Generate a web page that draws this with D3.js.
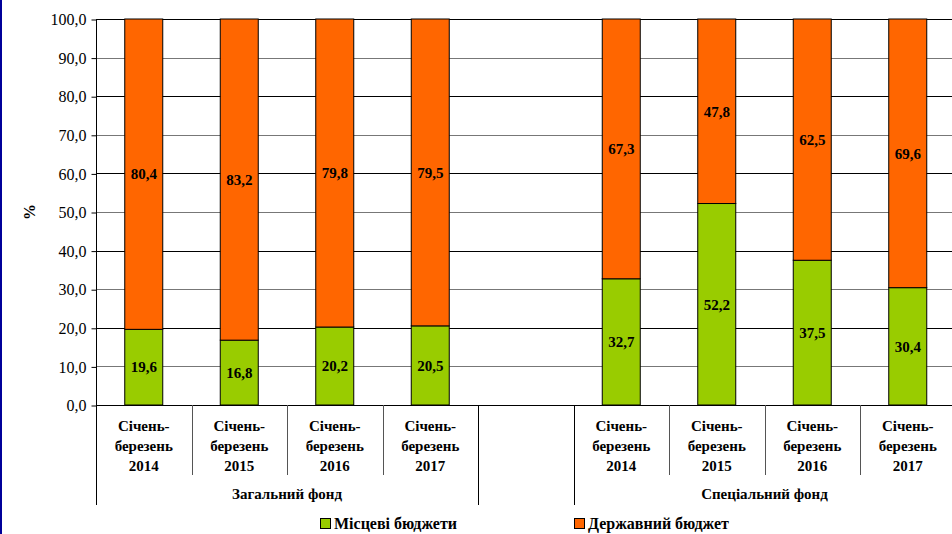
<!DOCTYPE html>
<html><head><meta charset="utf-8">
<script src="https://cdn.jsdelivr.net/npm/d3@7"></script>
<style>
body{margin:0;background:#fff;}
svg{display:block;}
svg text{font-family:"Times New Roman","Liberation Serif",Tinos,"DejaVu Serif",serif !important;}
</style></head>
<body>
<svg id="chart" width="952" height="534"></svg>
<script>
const categories = ["g2014","g2015","g2016","g2017","gap","s2014","s2015","s2016","s2017"];
const categoryLabels = [
  ["Січень-","березень","2014"],["Січень-","березень","2015"],["Січень-","березень","2016"],["Січень-","березень","2017"],
  [],
  ["Січень-","березень","2014"],["Січень-","березень","2015"],["Січень-","березень","2016"],["Січень-","березень","2017"]
];
const localBudget = [19.6,16.8,20.2,20.5,null,32.7,52.2,37.5,30.4];
const stateBudget = [80.4,83.2,79.8,79.5,null,67.3,47.8,62.5,69.6];
const groups = [{name:"Загальний фонд", from:0, to:4},{name:"Спеціальний фонд", from:5, to:9}];
const yTicks = [0,10,20,30,40,50,60,70,80,90,100];
const seriesNames = ["Місцеві бюджети","Державний бюджет"];
const colors = ["#99CC00","#FF6600"];

const svg = d3.select("#chart");
const pLeft = 96, pRight = 955.5, pTop = 19, pBottom = 405;
const x = d3.scaleBand().domain(categories).range([pLeft,pRight]).paddingInner(0).paddingOuter(0);
const y = d3.scaleLinear().domain([0,100]).range([pBottom,pTop]);
const fmt = v => d3.format(".1f")(v).replace(".",",");

// left border
svg.append("rect").attr("x",0).attr("y",0).attr("width",2).attr("height",534).attr("fill","#000099");

// gridlines
svg.append("g").selectAll("line").data(yTicks.filter(d=>d>0)).join("line")
  .attr("x1",pLeft).attr("x2",952).attr("y1",d=>Math.round(y(d))+0.5).attr("y2",d=>Math.round(y(d))+0.5)
  .attr("stroke",d=> (d/10)%2===1 ? "#777" : "#000").attr("stroke-width",1);

// y axis
const yAxis = d3.axisLeft(y).tickValues(yTicks).tickFormat(fmt).tickSize(5).tickPadding(5);
const ya = svg.append("g").attr("transform",`translate(${pLeft+0.5},0.5)`).call(yAxis)
  .attr("font-size",16);
ya.select(".domain").attr("stroke","#000").attr("d",`M0,${pTop}V${pBottom}`);
ya.selectAll("text").attr("fill","#000");
ya.selectAll(".tick line").attr("stroke","#000");

// y label
svg.append("text").attr("transform","translate(35,212) rotate(-90)").attr("text-anchor","middle")
  .attr("font-size",16).attr("font-weight","bold").text("%");

// bars
const bw = 38;
const data = categories.map((c,i)=>({c,i,l:localBudget[i],s:stateBudget[i]})).filter(d=>d.l!=null);
const gb = svg.append("g");
gb.selectAll("rect.l").data(data).join("rect").attr("class","l")
  .attr("x",d=>x(d.c)+x.bandwidth()/2-bw/2).attr("width",bw)
  .attr("y",d=>y(d.l)).attr("height",d=>y(0)-y(d.l))
  .attr("fill",colors[0]).attr("stroke","#000").attr("stroke-width",1);
gb.selectAll("rect.s").data(data).join("rect").attr("class","s")
  .attr("x",d=>x(d.c)+x.bandwidth()/2-bw/2).attr("width",bw)
  .attr("y",d=>y(d.l+d.s)).attr("height",d=>y(d.l)-y(d.l+d.s))
  .attr("fill",colors[1]).attr("stroke","#000").attr("stroke-width",1);

// value labels
const gl = svg.append("g").attr("font-size",15).attr("font-weight","bold").attr("text-anchor","middle");
gl.selectAll("text.l").data(data).join("text").attr("class","l")
  .attr("x",d=>x(d.c)+x.bandwidth()/2).attr("y",d=>y(d.l/2)).attr("dy","0.35em").text(d=>fmt(d.l));
gl.selectAll("text.s").data(data).join("text").attr("class","s")
  .attr("x",d=>x(d.c)+x.bandwidth()/2).attr("y",d=>y(d.l+d.s/2)).attr("dy","0.35em").text(d=>fmt(d.s));

// x axis line
svg.append("line").attr("x1",pLeft).attr("x2",952).attr("y1",pBottom+0.5).attr("y2",pBottom+0.5).attr("stroke","#000");

// category separators
const bounds = categories.map(c=>x(c));
const ga = svg.append("g");
bounds.forEach((b,i)=>{
  const isGroup = (i===0 || i===4 || i===5);
  ga.append("line").attr("x1",Math.round(b)+0.5).attr("x2",Math.round(b)+0.5)
    .attr("y1",pBottom).attr("y2",isGroup?505:475).attr("stroke",isGroup?"#000":"#555");
});

// category labels
const gc = svg.append("g").attr("font-size",15).attr("font-weight","bold").attr("text-anchor","middle");
categories.forEach((c,i)=>{
  categoryLabels[i].forEach((t,j)=>{
    gc.append("text").attr("x",x(c)+x.bandwidth()/2).attr("y",431+j*20).text(t);
  });
});
groups.forEach(g=>{
  const x0 = x(categories[g.from]);
  const x1 = g.to<categories.length ? x(categories[g.to]) : pRight;
  gc.append("text").attr("x",(x0+x1)/2).attr("y",499).text(g.name);
});

// legend
const legendX = [320,574];
const lg = svg.append("g");
seriesNames.forEach((n,i)=>{
  lg.append("rect").attr("x",legendX[i]+0.5).attr("y",518.5).attr("width",10).attr("height",10)
    .attr("fill",colors[i]).attr("stroke","#000");
  lg.append("text").attr("x",legendX[i]+14).attr("y",529).attr("font-size",16).attr("font-weight","bold").text(n);
});
</script>
</body></html>
